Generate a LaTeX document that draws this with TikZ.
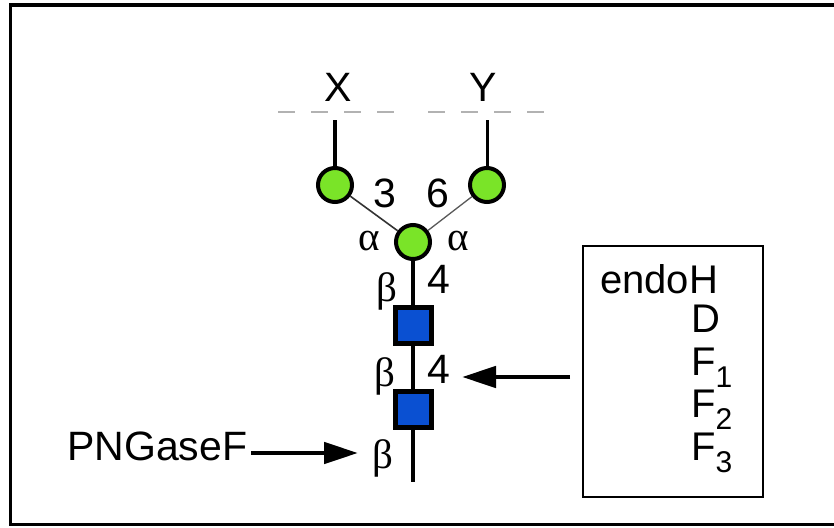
\documentclass[tikz,border=0pt]{standalone}
\usepackage{fontspec}
\setmainfont{Liberation Sans}
\newfontfamily\grk{Liberation Serif}
\usetikzlibrary{arrows.meta}
\definecolor{glcgreen}{RGB}{122,228,40}
\definecolor{glcblue}{RGB}{10,80,210}
\newcommand{\subs}[1]{\raisebox{-12pt}{\fontsize{30}{30}\selectfont #1}}
\begin{document}
\begin{tikzpicture}[x=1pt,y=-1pt,
  man/.style={circle,draw=black,fill=glcgreen,line width=4pt,minimum size=34pt,inner sep=0pt},
  glc/.style={rectangle,draw=black,fill=glcblue,line width=5pt,minimum size=36pt,inner sep=0pt},
  lbl/.style={font=\fontsize{41}{41}\selectfont,inner sep=0pt,anchor=base},
  grl/.style={font=\grk\fontsize{41}{41}\selectfont,inner sep=0pt,anchor=base},
  boxtxt/.style={font=\fontsize{40}{40}\selectfont,inner sep=0pt,anchor=base west},
  arr/.style={-{Triangle[length=34pt,width=21pt]},line width=4.8pt},
  stem/.style={line width=4pt},
  dashline/.style={gray!60,line width=1.5pt,dash pattern=on 17pt off 16pt},
]
\useasboundingbox (0,0) rectangle (834,527);
\fill[white] (0,0) rectangle (834,527);
% outer frame
\begin{scope}
\clip (0,0) rectangle (834,527);
\draw[line width=3.5pt] (10.5,5) rectangle (870,524.5);
\end{scope}

% dashed lines
\coordinate (dla) at (278,112);
\coordinate (dlb) at (395,112);
\coordinate (dlc) at (428,112);
\coordinate (dld) at (545,112);
\draw[dashline] (dla) -- (dlb);
\draw[dashline] (dlc) -- (dld);

% residues
\node[man] (m1) at (413,242) {};
\node[man] (m2) at (335,185) {};
\node[man] (m3) at (487,185) {};
\node[glc] (g1) at (413,325) {};
\node[glc] (g2) at (413,409) {};
\coordinate (xtop) at (335,120);
\coordinate (ytop) at (487,120);
\coordinate (bot) at (413,482);

\draw[line width=4pt] (m2) -- (xtop);
\draw[line width=3pt] (m3) -- (ytop);
\draw[line width=1.6pt,black!80] (m2) -- (m1);
\draw[line width=1.3pt,black!65] (m3) -- (m1);
\draw[stem] (m1) -- (g1);
\draw[stem] (g1) -- (g2);
\draw[stem] (g2) -- (bot);

% labels
\node[lbl] (lx) at (338,101) {X};
\node[lbl] (ly) at (483,101) {Y};
\node[lbl] (l3) at (385,207) {3};
\node[lbl] (l6) at (438,207) {6};
\node[grl] (a1) at (369,250) {α};
\node[grl] (a2) at (458,250) {α};
\node[lbl] (f1) at (439,293) {4};
\node[lbl] (f2) at (439,383) {4};
\node[grl] (b1) at (387,301) {β};
\node[grl] (b2) at (385,386) {β};
\node[grl] (b3) at (383,468) {β};

% PNGaseF
\node[boxtxt,font=\fontsize{41}{41}\selectfont] (png) at (67,460) {PNGaseF};
\coordinate (pngtip) at (358,453);
\draw[arr] ([xshift=4pt]png.east |- pngtip) -- (pngtip);

% enzyme box
\node[draw,line width=2pt,minimum width=180pt,minimum height=251pt,inner sep=0pt] (enz) at (673,371.5) {};
\node[boxtxt] (eh) at (600,293) {endoH};
\node[boxtxt] (ed) at (691,332) {D};
\node[boxtxt] (ef1) at (691,375) {F\subs{1}};
\node[boxtxt] (ef2) at (691,417) {F\subs{2}};
\node[boxtxt] (ef3) at (691,460) {F\subs{3}};
\coordinate (arrs) at (570,377);
\coordinate (arrt) at (462,377);
\draw[arr] (arrs) -- (arrt);
\end{tikzpicture}
\end{document}
